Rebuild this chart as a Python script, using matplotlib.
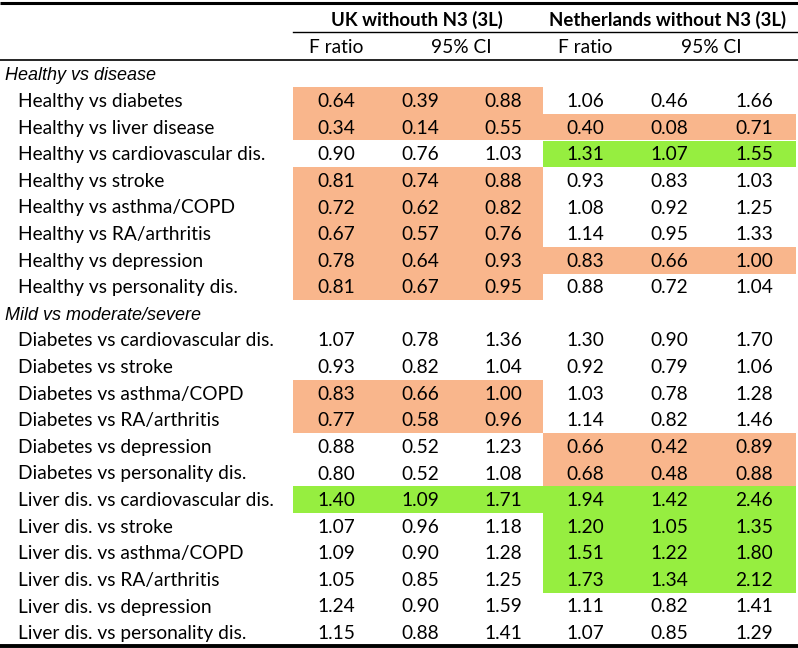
import numpy as np
import matplotlib.pyplot as plt
from matplotlib.patches import Rectangle

# table content
group_uk = 'UK withouth N3 (3L)'
group_nl = 'Netherlands without N3 (3L)'
sub_headers = ['F ratio', '95% CI', 'F ratio', '95% CI']

section_1 = 'Healthy vs disease'
section_2 = 'Mild vs moderate/severe'

labels_1 = ['Healthy vs diabetes', 'Healthy vs liver disease',
            'Healthy vs cardiovascular dis.', 'Healthy vs stroke',
            'Healthy vs asthma/COPD', 'Healthy vs RA/arthritis',
            'Healthy vs depression', 'Healthy vs personality dis.']
labels_2 = ['Diabetes vs cardiovascular dis.', 'Diabetes vs stroke',
            'Diabetes vs asthma/COPD', 'Diabetes vs RA/arthritis',
            'Diabetes vs depression', 'Diabetes vs personality dis.',
            'Liver dis. vs cardiovascular dis.', 'Liver dis. vs stroke',
            'Liver dis. vs asthma/COPD', 'Liver dis. vs RA/arthritis',
            'Liver dis. vs depression', 'Liver dis. vs personality dis.']

# F ratio, CI low, CI high
uk_vals_1 = [[0.64, 0.39, 0.88], [0.34, 0.14, 0.55], [0.90, 0.76, 1.03],
             [0.81, 0.74, 0.88], [0.72, 0.62, 0.82], [0.67, 0.57, 0.76],
             [0.78, 0.64, 0.93], [0.81, 0.67, 0.95]]
nl_vals_1 = [[1.06, 0.46, 1.66], [0.40, 0.08, 0.71], [1.31, 1.07, 1.55],
             [0.93, 0.83, 1.03], [1.08, 0.92, 1.25], [1.14, 0.95, 1.33],
             [0.83, 0.66, 1.00], [0.88, 0.72, 1.04]]
uk_vals_2 = [[1.07, 0.78, 1.36], [0.93, 0.82, 1.04], [0.83, 0.66, 1.00],
             [0.77, 0.58, 0.96], [0.88, 0.52, 1.23], [0.80, 0.52, 1.08],
             [1.40, 1.09, 1.71], [1.07, 0.96, 1.18], [1.09, 0.90, 1.28],
             [1.05, 0.85, 1.25], [1.24, 0.90, 1.59], [1.15, 0.88, 1.41]]
nl_vals_2 = [[1.30, 0.90, 1.70], [0.92, 0.79, 1.06], [1.03, 0.78, 1.28],
             [1.14, 0.82, 1.46], [0.66, 0.42, 0.89], [0.68, 0.48, 0.88],
             [1.94, 1.42, 2.46], [1.20, 1.05, 1.35], [1.51, 1.22, 1.80],
             [1.73, 1.34, 2.12], [1.11, 0.82, 1.41], [1.07, 0.85, 1.29]]

# highlight: 'o' = lower (orange), 'g' = higher (green), '' = none
uk_mark_1 = ['o', 'o', '', 'o', 'o', 'o', 'o', 'o']
nl_mark_1 = ['', 'o', 'g', '', '', '', 'o', '']
uk_mark_2 = ['', '', 'o', 'o', '', '', 'g', '', '', '', '', '']
nl_mark_2 = ['', '', '', '', 'o', 'o', 'g', 'g', 'g', 'g', '', '']

fill = {'o': '#F9B68C', 'g': '#96EE40'}

# layout (pixel coords)
W, H = 798, 648
row0 = 74.0
pitch = 26.6
col_uk = [336, 420, 503]
col_nl = [585, 669, 754]
uk_span = (293, 543)
nl_span = (543, 796)

font = ['Lato', 'DejaVu Sans']
fs = 13.8

fig = plt.figure(figsize=(W/100, H/100), dpi=100)
ax = fig.add_axes([0, 0, 1, 1])
ax.set_xlim(0, W)
ax.set_ylim(H, 0)
ax.axis('off')

# rules
ax.plot([0, W], [2.5, 2.5], color='black', lw=2.2, solid_capstyle='butt')
ax.plot([uk_span[0], W], [32, 32], color='black', lw=1.0)
ax.plot([0, W], [60, 60], color='black', lw=1.2)
ax.plot([0, W], [645.5, 645.5], color='black', lw=2.8, solid_capstyle='butt')

# headers
ax.text(417, 26, group_uk, ha='center', va='baseline', fontsize=13.4,
        fontweight='bold', family=font)
ax.text(668, 26, group_nl, ha='center', va='baseline', fontsize=13.4,
        fontweight='bold', family=font)
sub_x = [col_uk[0], (col_uk[1]+col_uk[2])/2, col_nl[0], (col_nl[1]+col_nl[2])/2]
for sx, st in zip(sub_x, sub_headers):
    ax.text(sx, 53, st, ha='center', va='baseline', fontsize=fs, family=font)

rows = []
rows.append(('sec', section_1, None, None, None, None))
for i in range(len(labels_1)):
    rows.append(('row', labels_1[i], uk_vals_1[i], nl_vals_1[i], uk_mark_1[i], nl_mark_1[i]))
rows.append(('sec', section_2, None, None, None, None))
for i in range(len(labels_2)):
    rows.append(('row', labels_2[i], uk_vals_2[i], nl_vals_2[i], uk_mark_2[i], nl_mark_2[i]))

for i, (kind, lab, uk, nl, um, nm) in enumerate(rows):
    yc = row0 + pitch*i
    yb = yc + 6.5
    if kind == 'sec':
        ax.text(5, yb, lab, ha='left', va='baseline', fontsize=13.0,
                style='italic', family=['Liberation Sans', 'DejaVu Sans'])
        continue
    for mark, span in ((um, uk_span), (nm, nl_span)):
        if mark:
            ax.add_patch(Rectangle((span[0], yc - pitch/2), span[1]-span[0], pitch,
                                   facecolor=fill[mark], edgecolor='none', zorder=0))
    ax.text(18, yb, lab, ha='left', va='baseline', fontsize=fs, family=font)
    for cx, v in zip(col_uk, uk):
        ax.text(cx, yb, '%.2f' % v, ha='center', va='baseline', fontsize=fs, family=font)
    for cx, v in zip(col_nl, nl):
        ax.text(cx, yb, '%.2f' % v, ha='center', va='baseline', fontsize=fs, family=font)

fig.savefig('out.png', dpi=100)
